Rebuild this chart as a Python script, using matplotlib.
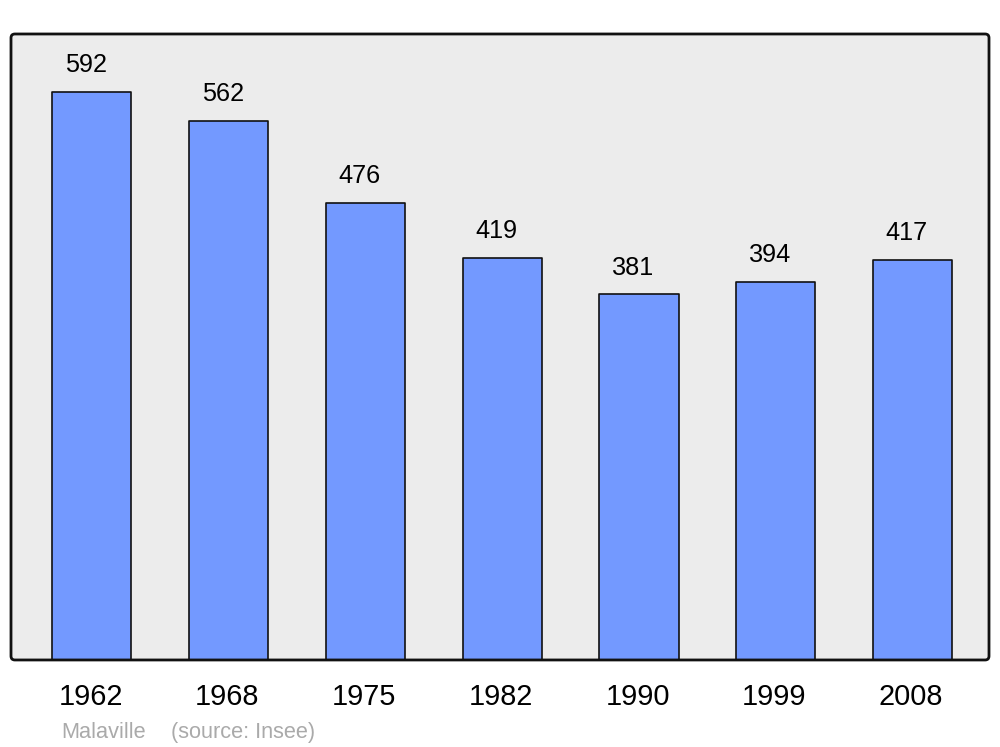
import matplotlib
matplotlib.use("Agg")
import matplotlib.pyplot as plt
from matplotlib.patches import FancyBboxPatch

years = ['1962', '1968', '1975', '1982', '1990', '1999', '2008']
population = [592, 562, 476, 419, 381, 394, 417]

plt.rcParams['font.family'] = ['Liberation Sans', 'DejaVu Sans']

fig = plt.figure(figsize=(10, 7.47), dpi=100)
ax = fig.add_axes([0.011, 0.1165, 0.978, 0.838])
ax.set_xlim(-0.592, 6.559)
ax.set_ylim(0, 652.4)
ax.axis('off')

# fond gris arrondi + cadre par-dessus les barres
asp = 978 / 626
bg = FancyBboxPatch((0, 0), 1, 1, boxstyle='round,pad=0,rounding_size=0.004',
                    mutation_aspect=asp, transform=ax.transAxes,
                    facecolor='#ececec', edgecolor='none', zorder=0, clip_on=False)
ax.add_patch(bg)
border = FancyBboxPatch((0, 0), 1, 1, boxstyle='round,pad=0,rounding_size=0.004',
                        mutation_aspect=asp, transform=ax.transAxes,
                        facecolor='none', edgecolor='#111111', linewidth=2.0,
                        zorder=3, clip_on=False)
ax.add_patch(border)

x = list(range(len(years)))
bars = ax.bar(x, population, width=0.578, color='#7399ff', edgecolor='#111111',
              linewidth=1.2, joinstyle='round', zorder=2)

for xi, v in zip(x, population):
    # valeurs un peu décalées vers la gauche comme dans l'original
    ax.annotate(str(v), (xi, v), xytext=(-4.3, 14.3), textcoords='offset points',
                ha='center', va='baseline', fontsize=18.2, color='black')
    ax.annotate(years[xi], (xi, 0), xycoords=('data', 'axes fraction'),
                xytext=(-1, -32.4), textcoords='offset points',
                ha='center', va='baseline', fontsize=20.8, color='black')

fig.text(0.061, 0.012, 'Malaville', fontsize=15.7,
         color='#aaaaaa', ha='left', va='baseline')
fig.text(0.171, 0.012, '(source: Insee)', fontsize=15.7,
         color='#aaaaaa', ha='left', va='baseline')

fig.savefig('out.png', dpi=100)
